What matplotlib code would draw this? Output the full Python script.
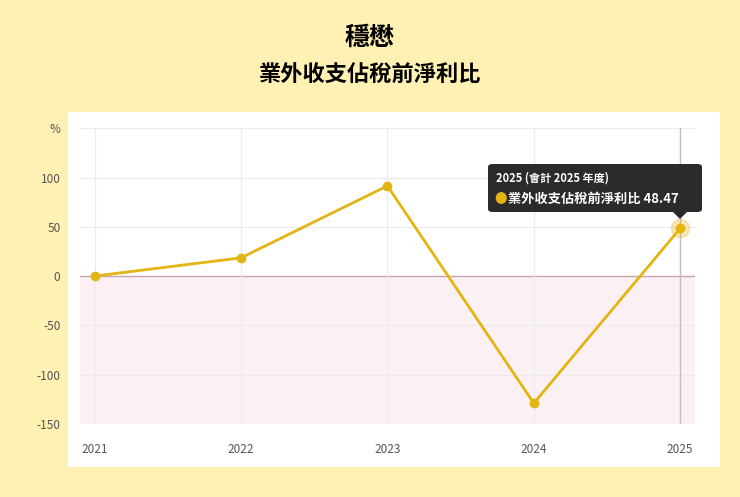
import matplotlib.pyplot as plt
from matplotlib.patches import FancyBboxPatch, Polygon

plt.rcParams['font.family'] = ['Noto Sans CJK TC', 'DejaVu Sans']

years = ['2021', '2022', '2023', '2024', '2025']
values = [0, 18.5, 91.5, -129, 48.47]
series_name = '業外收支佔稅前淨利比'
line_color = '#E3B412'

fig = plt.figure(figsize=(7.4, 4.97), dpi=100)
fig.patch.set_facecolor('#FFF0B3')

# white card as a background axes
card = fig.add_axes([0.092, 0.060, 0.881, 0.714], zorder=-1)
card.set_facecolor('white')
card.set_xticks([])
card.set_yticks([])
for s in card.spines.values():
    s.set_visible(False)

fig.text(0.5, 0.923, '穩懋', ha='center', va='center', fontsize=18, fontweight='bold')
fig.text(0.5, 0.849, series_name, ha='center', va='center', fontsize=16, fontweight='bold')

ax = fig.add_axes([0.108, 0.147, 0.831, 0.595], zorder=1)
ax.set_facecolor('none')
x = range(len(years))
ax.set_xlim(-0.1, 4.1)
ax.set_ylim(-150, 150)
ax.axhspan(-150, 0, color='#FBF1F4', zorder=0)
ax.axhline(0, color='#C9A3AE', lw=1, zorder=1)
for yv in [-150, -100, -50, 50, 100, 150]:
    ax.axhline(yv, color='#EBEBEB', lw=0.8, zorder=1)
for xv in x:
    ax.axvline(xv, color='#EBEBEB', lw=0.8, zorder=1)
ax.axvline(4, color='#C8BCC0', lw=1, zorder=1)

ax.plot(x, values, color=line_color, lw=2, marker='o', ms=6, zorder=3)
ax.plot([4], [values[4]], 'o', ms=13, color=line_color, alpha=0.3, zorder=2)

ax.set_xticks(list(x))
ax.set_xticklabels(years)
ax.set_yticks([-150, -100, -50, 0, 50, 100, 150])
ax.set_yticklabels(['-150', '-100', '-50', '0', '50', '100', '%'])
ax.tick_params(length=0, labelsize=8.5, colors='#555555')
ax.tick_params(axis='x', pad=14)
ax.tick_params(axis='y', pad=14)
for s in ax.spines.values():
    s.set_visible(False)

# tooltip
bx0, by0, bw, bh = 488 / 740, 1 - 212 / 497, 214 / 740, 48 / 497
fig.patches.append(FancyBboxPatch((bx0, by0), bw, bh, boxstyle='round,pad=0,rounding_size=0.006',
                                  transform=fig.transFigure, facecolor='#2B2B2B', edgecolor='none', zorder=5))
fig.patches.append(Polygon([(673 / 740, by0), (687 / 740, by0), (680 / 740, 1 - 219 / 497)],
                           closed=True, transform=fig.transFigure, facecolor='#2B2B2B', zorder=5))
fig.text(496 / 740, 1 - 178 / 497, '2025 (會計 2025 年度)', color='white', fontsize=8,
         fontweight='bold', va='center', zorder=6)
fig.text(494 / 740, 1 - 199 / 497, '●', color=line_color, fontsize=9, va='center', zorder=6)
fig.text(508 / 740, 1 - 199 / 497, f'{series_name} {values[4]:.2f}', color='white', fontsize=9.5,
         fontweight='bold', va='center', zorder=6)

fig.savefig('out.png', dpi=100, facecolor=fig.get_facecolor())
